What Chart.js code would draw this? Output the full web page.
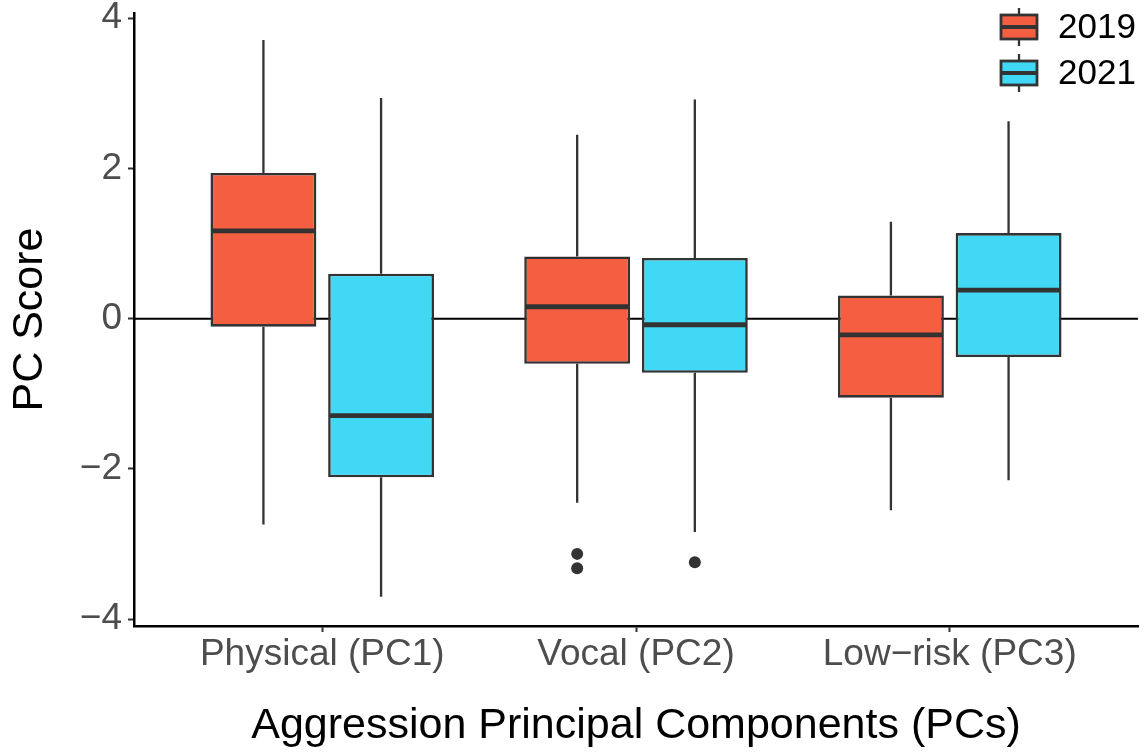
<!DOCTYPE html>
<html lang="en">
<head>
    <meta charset="UTF-8">
    <title>PC Score by Aggression Component</title>
    <style>
        body {
            margin: 0;
            background-color: #ffffff;
        }
        #chartBox {
            width: 1144px;
            height: 752px;
        }
    </style>
</head>
<body>
    <div id="chartBox">
        <canvas id="boxChart" width="1144" height="752"></canvas>
    </div>

    <script src="https://cdn.jsdelivr.net/npm/chart.js"></script>
    <script>
        // Categories and series
        const categories = ['Physical (PC1)', 'Vocal (PC2)', 'Low\u2212risk (PC3)'];
        const seriesNames = ['2019', '2021'];
        const seriesColors = ['#F55F41', '#40D8F5'];

        const min2019 = [-2.74, -2.45, -2.55];
        const q1_2019 = [-0.105, -0.60, -1.05];
        const med2019 = [1.17, 0.16, -0.215];
        const q3_2019 = [1.94, 0.83, 0.31];
        const max2019 = [3.71, 2.45, 1.29];
        const out2019 = [[], [-3.13, -3.32], []];

        const min2021 = [-3.70, -2.84, -2.15];
        const q1_2021 = [-2.11, -0.72, -0.51];
        const med2021 = [-1.29, -0.08, 0.38];
        const q3_2021 = [0.60, 0.81, 1.14];
        const max2021 = [2.94, 2.92, 2.63];
        const out2021 = [[], [-3.24], []];

        const yTicks = [-4, -2, 0, 2, 4];

        const stats = [
            { min: min2019, med: med2019, max: max2019, out: out2019 },
            { min: min2021, med: med2021, max: max2021, out: out2021 }
        ];

        const lineColor = '#333333';
        const fontFamily = "'Liberation Sans', Arial, sans-serif";
        Chart.defaults.font.family = fontFamily;

        function minus(v) {
            return v < 0 ? '\u2212' + Math.abs(v) : String(v);
        }

        // Whiskers, medians, outliers, the zero line and the legend
        const boxPlugin = {
            id: 'boxPlot',
            beforeDatasetsDraw(chart) {
                const { ctx, chartArea, scales } = chart;
                const y0 = scales.y.getPixelForValue(0);
                ctx.save();
                ctx.strokeStyle = '#000000';
                ctx.lineWidth = 2;
                ctx.beginPath();
                ctx.moveTo(chartArea.left, y0);
                ctx.lineTo(chartArea.right, y0);
                ctx.stroke();
                ctx.restore();
            },
            afterDatasetsDraw(chart) {
                const { ctx, scales } = chart;
                const y = scales.y;
                ctx.save();
                chart.data.datasets.forEach((ds, d) => {
                    const meta = chart.getDatasetMeta(d);
                    const s = stats[d];
                    meta.data.forEach((bar, i) => {
                        const lo = ds.data[i].y[0];
                        const hi = ds.data[i].y[1];
                        // whiskers
                        ctx.strokeStyle = lineColor;
                        ctx.lineWidth = 2.3;
                        ctx.beginPath();
                        ctx.moveTo(bar.x, y.getPixelForValue(hi));
                        ctx.lineTo(bar.x, y.getPixelForValue(s.max[i]));
                        ctx.moveTo(bar.x, y.getPixelForValue(lo));
                        ctx.lineTo(bar.x, y.getPixelForValue(s.min[i]));
                        ctx.stroke();
                        // median
                        const half = bar.width / 2;
                        const ym = y.getPixelForValue(s.med[i]);
                        ctx.lineWidth = 4.8;
                        ctx.beginPath();
                        ctx.moveTo(bar.x - half + 1, ym);
                        ctx.lineTo(bar.x + half - 1, ym);
                        ctx.stroke();
                        // outliers
                        ctx.fillStyle = lineColor;
                        s.out[i].forEach(v => {
                            ctx.beginPath();
                            ctx.arc(bar.x, y.getPixelForValue(v), 6, 0, Math.PI * 2);
                            ctx.fill();
                        });
                    });
                });
                ctx.restore();
            },
            afterDraw(chart) {
                const { ctx, chartArea } = chart;
                const keyLeft = chartArea.right - 137;
                const rows = [27, 73];
                ctx.save();
                seriesNames.forEach((name, k) => {
                    const cy = rows[k];
                    const cx = keyLeft + 18;
                    ctx.strokeStyle = lineColor;
                    ctx.lineWidth = 2.3;
                    ctx.beginPath();
                    ctx.moveTo(cx, cy - 19);
                    ctx.lineTo(cx, cy + 19);
                    ctx.stroke();
                    ctx.fillStyle = seriesColors[k];
                    ctx.fillRect(keyLeft, cy - 12, 36, 24);
                    ctx.lineWidth = 2.8;
                    ctx.strokeRect(keyLeft, cy - 12, 36, 24);
                    ctx.lineWidth = 4;
                    ctx.beginPath();
                    ctx.moveTo(keyLeft, cy);
                    ctx.lineTo(keyLeft + 36, cy);
                    ctx.stroke();
                    ctx.fillStyle = '#000000';
                    ctx.font = '35px ' + fontFamily;
                    ctx.textBaseline = 'middle';
                    ctx.textAlign = 'left';
                    ctx.fillText(name, keyLeft + 57, cy + 1);
                });
                ctx.restore();
            }
        };

        const datasets = [
            { q1: q1_2019, q3: q3_2019 },
            { q1: q1_2021, q3: q3_2021 }
        ].map((s, d) => ({
            label: seriesNames[d],
            data: categories.map((c, i) => ({ x: i + 1, y: [s.q1[i], s.q3[i]] })),
            backgroundColor: seriesColors[d],
            borderColor: lineColor,
            borderWidth: 2.6,
            borderSkipped: false,
            categoryPercentage: 0.75,
            barPercentage: 0.9
        }));

        new Chart(document.getElementById('boxChart').getContext('2d'), {
            type: 'bar',
            data: { datasets: datasets },
            plugins: [boxPlugin],
            options: {
                responsive: false,
                devicePixelRatio: 1,
                animation: false,
                layout: { padding: { top: 13, right: 6, left: 0, bottom: 0 } },
                plugins: {
                    legend: { display: false },
                    tooltip: { enabled: false }
                },
                scales: {
                    x: {
                        type: 'linear',
                        min: 0.4,
                        max: 3.6,
                        offset: false,
                        afterFit(scale) {
                            scale.height = 126;
                            scale.paddingLeft = 0;
                            scale.paddingRight = 0;
                        },
                        afterBuildTicks(scale) {
                            scale.ticks = categories.map((c, i) => ({ value: i + 1 }));
                        },
                        ticks: {
                            callback: v => categories[v - 1],
                            color: '#4D4D4D',
                            font: { size: 37 },
                            padding: 1,
                            maxRotation: 0,
                            autoSkip: false
                        },
                        grid: {
                            offset: false,
                            drawOnChartArea: false,
                            tickLength: 6,
                            tickColor: lineColor,
                            tickWidth: 2
                        },
                        border: { display: true, color: '#000000', width: 2.5 },
                        title: {
                            display: true,
                            text: 'Aggression Principal Components (PCs)',
                            color: '#000000',
                            font: { size: 43 },
                            padding: { top: 0, bottom: 0 }
                        }
                    },
                    y: {
                        min: -4.09,
                        max: 4.07,
                        afterFit(scale) {
                            scale.width = 134;
                            scale.paddingTop = 0;
                            scale.paddingBottom = 0;
                        },
                        afterBuildTicks(scale) {
                            scale.ticks = yTicks.map(v => ({ value: v }));
                        },
                        ticks: {
                            callback: v => minus(v),
                            color: '#4D4D4D',
                            font: { size: 37 },
                            padding: 6
                        },
                        grid: {
                            drawOnChartArea: false,
                            tickLength: 6,
                            tickColor: lineColor,
                            tickWidth: 2
                        },
                        border: { display: true, color: '#000000', width: 2.5 },
                        title: {
                            display: true,
                            text: 'PC Score',
                            color: '#000000',
                            font: { size: 43 },
                            padding: { top: 4, bottom: 0 }
                        }
                    }
                }
            }
        });
    </script>
</body>
</html>
